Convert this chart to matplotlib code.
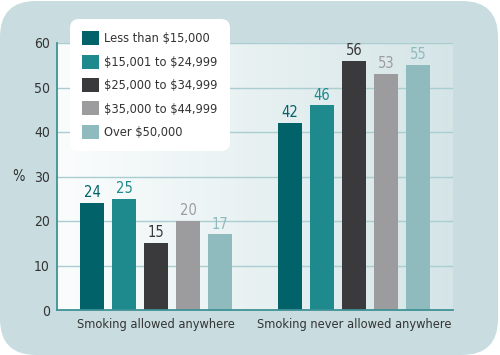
import matplotlib
matplotlib.use('Agg')
import matplotlib.pyplot as plt
import numpy as np
from matplotlib.patches import FancyBboxPatch
from matplotlib.transforms import IdentityTransform
from matplotlib.colors import LinearSegmentedColormap

plt.rcParams['font.family'] = ['DejaVu Sans']
plt.rcParams['font.stretch'] = 'condensed'
plt.rcParams['text.parse_math'] = False

categories = ['Smoking allowed anywhere', 'Smoking never allowed anywhere']
series = ['Less than $15,000', '$15,001 to $24,999', '$25,000 to $34,999',
          '$35,000 to $44,999', 'Over $50,000']
less_15k = [24, 42]
k15_25 = [25, 46]
k25_35 = [15, 56]
k35_45 = [20, 53]
over_50k = [17, 55]
values = [less_15k, k15_25, k25_35, k35_45, over_50k]
yticks = [0, 10, 20, 30, 40, 50, 60]

colors = ['#02626a', '#1f8a8e', '#3a393b', '#9c9c9e', '#8fbabe']
text_col = '#333333'

fig = plt.figure(figsize=(5, 3.55), dpi=100)
fig.patch.set_facecolor('white')
bg = FancyBboxPatch((0, 0), 498, 354, boxstyle='round,pad=0,rounding_size=36',
                    transform=IdentityTransform(), facecolor='#c9dde0',
                    edgecolor='none', zorder=-10)
fig.patches.append(bg)

ax = fig.add_axes([57/500, 1-310/355, 396/500, 267/355])
ax.set_facecolor('none')

x = np.arange(len(categories))
pitch = 0.1616
width = 0.121

cmap = LinearSegmentedColormap.from_list('g', ['#fbfdfd', '#d5e5e7'])
ax.imshow(np.linspace(0, 1, 256)[None, :], cmap=cmap, extent=(-0.5, 1.5, 0, 60),
          aspect='auto', zorder=0)

for t in yticks[1:]:
    ax.axhline(t, color='#a9cdd0', lw=1, zorder=0.5)

handles = []
for i, (vals, c, name) in enumerate(zip(values, colors, series)):
    b = ax.bar(x + (i - 2) * pitch, vals, width, color=c, label=name, zorder=2)
    ax.bar_label(b, padding=2, color=c, fontsize=10.5)
    handles.append(b)

ax.set_xlim(-0.5, 1.5)
ax.set_ylim(0, 60)
ax.set_yticks(yticks)
ax.set_xticks(x)
ax.set_xticklabels(categories, fontsize=9.2, color=text_col)
ax.tick_params(axis='both', length=0, colors=text_col)
ax.tick_params(axis='y', pad=5, labelsize=10)
ax.tick_params(axis='x', pad=6)
for s in ['top', 'right']:
    ax.spines[s].set_visible(False)
for s in ['left', 'bottom']:
    ax.spines[s].set_color('#3f9296')
    ax.spines[s].set_linewidth(1.3)
    ax.spines[s].set_zorder(3)

ax.set_ylabel('%', rotation=0, fontsize=10.5, color=text_col, va='center', ha='center')
ax.yaxis.set_label_coords(-0.098, 0.5)

leg = ax.legend(handles, series, loc='upper left',
                bbox_to_anchor=(70/500, 1-19/355), bbox_transform=fig.transFigure,
                frameon=True, fancybox=True, facecolor='white', edgecolor='none',
                framealpha=1, fontsize=9.2, handlelength=1.3, handleheight=1.3,
                handletextpad=0.45, labelspacing=0.72, borderpad=0.95,
                borderaxespad=0)
leg.get_frame().set_boxstyle('round', pad=0, rounding_size=0.7)
for t in leg.get_texts():
    t.set_color(text_col)
leg.set_zorder(5)

fig.savefig('out.png', dpi=100, facecolor='white')
